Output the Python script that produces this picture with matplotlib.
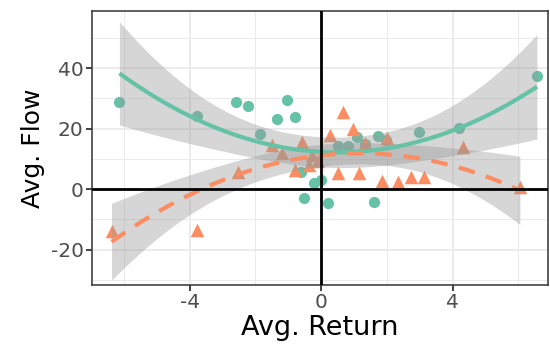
import numpy as np
import matplotlib
matplotlib.use('Agg')
import matplotlib.pyplot as plt

# green group (circles)
green_x = [-6.14, -3.77, -2.58, -2.22, -1.03, -1.34, -0.79, -1.85, -0.61, -0.21,
           0.00, -0.52, 0.21, 1.61, 1.09, 1.73, 1.98, 2.98, 4.19, 6.57,
           0.52, 0.82, 1.34]
green_y = [28.8, 24.1, 28.8, 27.4, 29.4, 23.1, 23.8, 18.2, 5.6, 2.0,
           3.0, -3.0, -4.6, -4.3, 17.2, 17.5, 16.2, 18.8, 20.2, 37.4,
           14.2, 14.2, 14.9]

# orange group (triangles)
orange_x = [-6.38, -3.77, -2.52, -1.49, -1.19, -0.58, -0.79, -0.36, -0.09, 0.27,
            0.67, 0.97, 0.52, 1.16, 1.85, 2.34, 2.74, 3.13, 4.32, 2.01,
            6.05, 1.34, -0.27]
orange_y = [-13.9, -13.6, 5.6, 14.5, 11.9, 15.5, 6.3, 7.9, 9.3, 17.9,
            25.5, 19.8, 5.3, 5.3, 2.6, 2.3, 4.0, 4.0, 13.9, 16.9,
            0.7, 15.2, 11.2]

green = '#66c2a5'
orange = '#fc8d62'


def quad_smooth(x, y, n=80):
    # y ~ poly(x, 2) with 95% confidence band, like geom_smooth
    x = np.asarray(x)
    y = np.asarray(y)
    X = np.column_stack([np.ones_like(x), x, x**2])
    beta, res, _, _ = np.linalg.lstsq(X, y, rcond=None)
    dof = len(x) - 3
    sigma2 = np.sum((y - X @ beta)**2) / dof
    cov = np.linalg.inv(X.T @ X) * sigma2
    xs = np.linspace(x.min(), x.max(), n)
    Xs = np.column_stack([np.ones_like(xs), xs, xs**2])
    fit = Xs @ beta
    se = np.sqrt(np.einsum('ij,jk,ik->i', Xs, cov, Xs))
    t = 2.09
    return xs, fit, fit - t*se, fit + t*se


fig = plt.figure(figsize=(5.5, 3.6), dpi=100)
ax = fig.add_axes([0.167, 0.208, 0.829, 0.761])

ax.scatter(green_x, green_y, s=65, color=green, marker='o', linewidths=0, zorder=3)
ax.scatter(orange_x, orange_y, s=95, color=orange, marker='^', linewidths=0, zorder=3)

gx, gf, glo, ghi = quad_smooth(green_x, green_y)
ox, of, olo, ohi = quad_smooth(orange_x, orange_y)
ax.fill_between(gx, glo, ghi, color='#999999', alpha=0.4, lw=0, zorder=4)
ax.fill_between(ox, olo, ohi, color='#999999', alpha=0.4, lw=0, zorder=4)
ax.plot(gx, gf, color=green, lw=3, zorder=5, solid_capstyle='butt')
ax.plot(ox, of, color=orange, lw=3, ls=(0, (4, 2.8)), zorder=5)

ax.axhline(0, color='black', lw=2, zorder=6)
ax.axvline(0, color='black', lw=2, zorder=6)

ax.set_xlim(-6.98, 6.9)
ax.set_ylim(-31.7, 58.8)
ax.set_xticks([-4, 0, 4])
ax.set_xticklabels(['-4', '0', '4'])
ax.set_xticks([-6, -2, 2, 6], minor=True)
ax.set_yticks([-20, 0, 20, 40])
ax.set_yticklabels(['-20', '0', '20', '40'])
ax.set_yticks([-30, -10, 10, 30, 50], minor=True)
ax.grid(which='major', color='#ebebeb', lw=1.3, zorder=0)
ax.grid(which='minor', color='#ebebeb', lw=0.7, zorder=0)
ax.set_axisbelow(True)
ax.tick_params(which='major', length=4, width=1.3, color='#333333',
               labelcolor='#4d4d4d', labelsize=14.5, pad=2)
ax.tick_params(which='minor', length=0)
for s in ax.spines.values():
    s.set_color('#333333')
    s.set_linewidth(1.1)

ax.set_xlabel('Avg. Return', fontsize=19.5, color='black', labelpad=2)
ax.set_ylabel('Avg. Flow', fontsize=18, color='black', labelpad=4)

fig.savefig('out.png', dpi=100)
